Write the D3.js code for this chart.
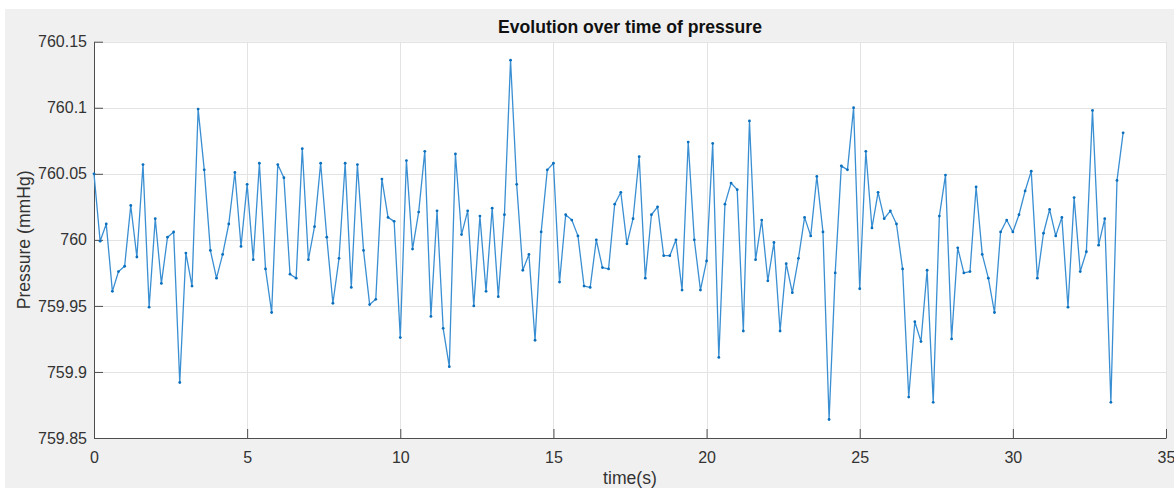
<!DOCTYPE html>
<html>
<head>
<meta charset="utf-8">
<script src="https://cdn.jsdelivr.net/npm/d3@7"></script>
<style>
  html, body { margin: 0; padding: 0; background: #ffffff; }
  svg { display: block; }
  text { font-family: "Liberation Sans", Arial, Helvetica, sans-serif; }
</style>
</head>
<body>
<svg id="chart" width="1174" height="489"></svg>
<script>
// ---- data ----
const sampleInterval = 0.2; // seconds between samples
const pressure = [
  760.050, 759.999, 760.012, 759.961, 759.976, 759.980, 760.026, 759.987, 760.057, 759.949,
  760.016, 759.967, 760.002, 760.006, 759.892, 759.990, 759.965, 760.099, 760.053, 759.992,
  759.971, 759.989, 760.012, 760.051, 759.995, 760.042, 759.985, 760.058, 759.978, 759.945,
  760.057,
  760.047, 759.974, 759.971, 760.069, 759.985, 760.010, 760.058, 760.002, 759.952, 759.986,
  760.058, 759.964, 760.057, 759.992, 759.951, 759.955, 760.046, 760.017, 760.014, 759.926,
  760.060, 759.993, 760.021, 760.067, 759.942, 760.022, 759.933, 759.904, 760.065, 760.004,
  760.022, 759.950, 760.018, 759.961, 760.024, 759.957, 760.019, 760.136, 760.042, 759.977,
  759.989, 759.924, 760.006, 760.053, 760.058, 759.968, 760.019, 760.015, 760.003, 759.965,
  759.964, 760.000, 759.979, 759.978, 760.027, 760.036, 759.997, 760.016, 760.063, 759.971,
  760.019, 760.025, 759.988, 759.988, 760.000, 759.962, 760.074, 760.000, 759.962, 759.984,
  760.073, 759.911, 760.027, 760.043, 760.038, 759.931, 760.090, 759.985, 760.015, 759.969,
  759.998, 759.931, 759.982, 759.960, 759.986, 760.017, 760.003, 760.048, 760.006, 759.864,
  759.975, 760.056, 760.053, 760.100, 759.963, 760.067, 760.009, 760.036, 760.016, 760.022,
  760.012, 759.978, 759.881, 759.938, 759.923, 759.977, 759.877, 760.018, 760.049, 759.925,
  759.994, 759.975, 759.976, 760.040, 759.989, 759.971, 759.945, 760.006, 760.015, 760.006,
  760.019,
  760.037, 760.052, 759.971, 760.005, 760.023, 760.003, 760.017, 759.949, 760.032, 759.976,
  759.991, 760.098, 759.996, 760.016, 759.877, 760.045, 760.081
];
const time = pressure.map((_, i) => +(i * sampleInterval).toFixed(1));
const xTicks = [0, 5, 10, 15, 20, 25, 30, 35];
const yTicks = [759.85, 759.9, 759.95, 760, 760.05, 760.1, 760.15];
const yTickLabels = ["759.85", "759.9", "759.95", "760", "760.05", "760.1", "760.15"];
const xDomain = [0, 35];
const yDomain = [759.85, 760.15];
const titleText = "Evolution over time of pressure";
const xLabelText = "time(s)";
const yLabelText = "Pressure (mmHg)";

// ---- layout ----
const W = 1174, H = 489;
const plot = { left: 94, right: 1166, top: 41.7, bottom: 438 };
const svg = d3.select("#chart");

svg.append("rect").attr("x", 5).attr("y", 9).attr("width", W - 5).attr("height", H - 10)
  .attr("fill", "#f0f0f0");
svg.append("rect").attr("x", plot.left).attr("y", plot.top)
  .attr("width", plot.right - plot.left).attr("height", plot.bottom - plot.top)
  .attr("fill", "#ffffff");

const x = d3.scaleLinear().domain(xDomain).range([plot.left, plot.right]);
const y = d3.scaleLinear().domain(yDomain).range([plot.bottom, plot.top]);

// grid
const grid = svg.append("g").attr("stroke", "#e3e3e3").attr("stroke-width", 1);
grid.selectAll("line.gx").data(xTicks).join("line")
  .attr("x1", d => Math.round(x(d)) + 0.5).attr("x2", d => Math.round(x(d)) + 0.5)
  .attr("y1", plot.top).attr("y2", plot.bottom);
grid.selectAll("line.gy").data(yTicks).join("line")
  .attr("y1", d => Math.round(y(d)) + 0.5).attr("y2", d => Math.round(y(d)) + 0.5)
  .attr("x1", plot.left).attr("x2", plot.right);

// axes
const axisColor = "#4d4d4d";
const textColor = "#333333";
const xAxis = d3.axisBottom(x).tickValues(xTicks).tickFormat(d3.format("d"))
  .tickSizeInner(-9).tickSizeOuter(0).tickPadding(14);
const gx = svg.append("g").attr("transform", `translate(0,${plot.bottom})`).call(xAxis);
gx.select(".domain").attr("stroke", axisColor);
gx.selectAll(".tick line").attr("stroke", axisColor);
gx.selectAll(".tick text").attr("fill", textColor).attr("font-size", 16)
  .attr("font-family", "'Liberation Sans', Arial, sans-serif");

const yAxis = d3.axisLeft(y).tickValues(yTicks).tickFormat((d, i) => yTickLabels[i])
  .tickSizeInner(-9).tickSizeOuter(0).tickPadding(7);
const gy = svg.append("g").attr("transform", `translate(${plot.left},0)`).call(yAxis);
gy.select(".domain").attr("stroke", axisColor);
gy.selectAll(".tick line").attr("stroke", axisColor);
gy.selectAll(".tick text").attr("fill", textColor).attr("font-size", 16)
  .attr("font-family", "'Liberation Sans', Arial, sans-serif");

// line
const data = time.map((t, i) => ({ t, p: pressure[i] }));
svg.append("path").datum(data)
  .attr("fill", "none").attr("stroke", "#3a8fd3").attr("stroke-width", 1.3)
  .attr("stroke-linejoin", "round")
  .attr("d", d3.line().x(d => x(d.t)).y(d => y(d.p)));
svg.append("g").selectAll("circle").data(data).join("circle")
  .attr("cx", d => x(d.t)).attr("cy", d => y(d.p)).attr("r", 1.4)
  .attr("fill", "#0a6fbd");

// labels
svg.append("text").attr("x", (plot.left + plot.right) / 2).attr("y", 33)
  .attr("text-anchor", "middle").attr("font-size", 17.6).attr("font-weight", "bold")
  .attr("fill", "#111").text(titleText);
svg.append("text").attr("x", (plot.left + plot.right) / 2).attr("y", 484)
  .attr("text-anchor", "middle").attr("font-size", 17.6).attr("fill", textColor).text(xLabelText);
svg.append("text").attr("transform", `translate(30,${(plot.top + plot.bottom) / 2}) rotate(-90)`)
  .attr("text-anchor", "middle").attr("font-size", 17.6).attr("fill", textColor).text(yLabelText);
</script>
</body>
</html>
